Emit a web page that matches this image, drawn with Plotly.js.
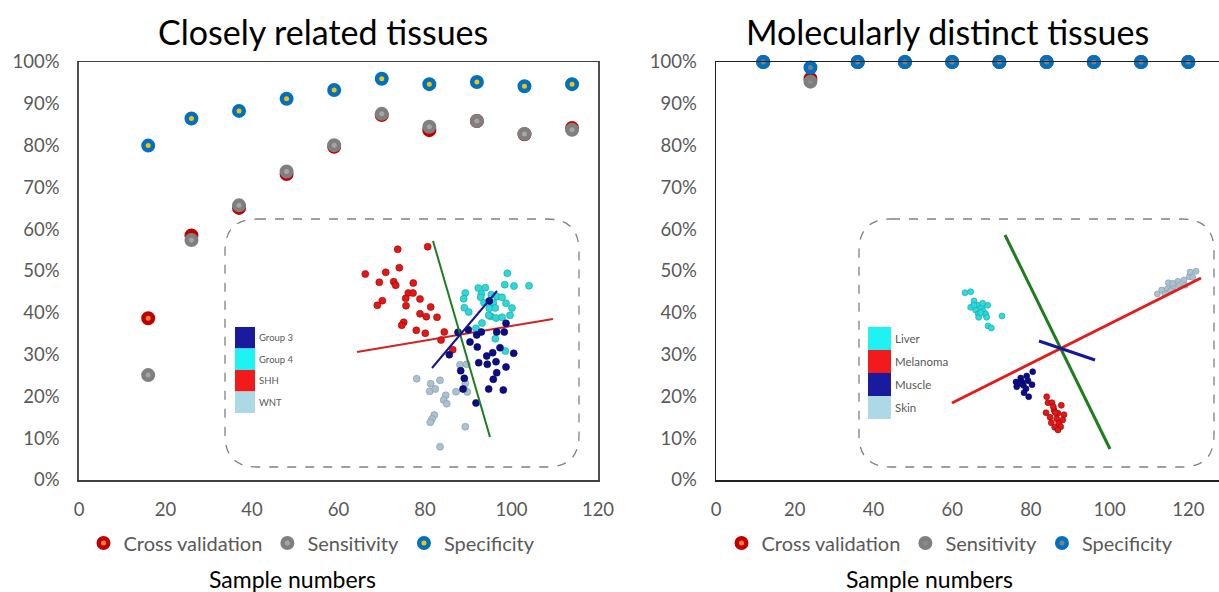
<!DOCTYPE html>
<html><head><meta charset="utf-8">
<script src="https://cdn.plot.ly/plotly-3.0.1.min.js"></script>
<style>html,body{margin:0;padding:0;background:#fff}#chart{width:1219px;height:592px}</style>
</head><body><div id="chart"></div>
<script>
// ---------- main data ----------
const leftSamples = [16, 26, 37, 48, 59, 70, 81, 92, 103, 114];
const leftCross   = [0.387, 0.585, 0.651, 0.732, 0.797, 0.873, 0.837, 0.859, 0.827, 0.842];
const leftSens    = [0.251, 0.574, 0.657, 0.738, 0.801, 0.876, 0.845, 0.859, 0.828, 0.838];
const leftSpec    = [0.800, 0.865, 0.883, 0.912, 0.933, 0.960, 0.947, 0.952, 0.942, 0.947];

const rightSamples = [12, 24, 36, 48, 60, 72, 84, 96, 108, 120];
const rightCross   = [1, 0.960, 1, 1, 1, 1, 1, 1, 1, 1];
const rightSens    = [1, 0.953, 1, 1, 1, 1, 1, 1, 1, 1];
const rightSpec    = [1, 0.987, 1, 1, 1, 1, 1, 1, 1, 1];

const xTicks = [0, 20, 40, 60, 80, 100, 120];
const seriesNames = ['Cross validation', 'Sensitivity', 'Specificity'];

// ---------- inset 1 (closely related tissues) scores ----------
const shhX = [397.7,427.7,365.3,385.7,399.3,379.3,393.7,395.7,413.3,408.3,413,405.7,420,382.3,377.3,406,430.7,420,426.3,437,403.7,401.7,416.3,425.3,444.3,441,452.7];
const shhY = [249.3,246.7,274,272.3,267.7,282.3,281.7,285.3,283,293,293,298.3,299,300.7,305.3,305.7,307,313.7,316.7,317.3,322.3,325.3,330.3,333.3,332,340,349.7];
const g4X = [507.3,504.7,514,529,478.3,485.3,465.3,463.7,481.3,480.7,491.3,497.3,502,484,493.3,506,512,464.3,468.7,489.3,495.3,490.7,496,502,510,482,488.7,476,495.3,505.3];
const g4Y = [273.3,284.7,286,285.7,288,287.7,293,298.7,294,297.3,294.7,296.7,297.3,302.7,302.7,303.3,308,307.7,312,308.3,308,316.3,318,317.3,315.3,323,315.3,328.3,338.7,351];
const g3X = [489.3,506,458,468.3,476.7,481.3,496.7,504.3,470,477.3,500,492.7,486.7,513.7,496,478.7,487.3,506,460.7,496.7,464.3,493.3,488.7,503.3,463,476,449.3];
const g3Y = [301,323.3,332.3,329.7,335,332,332,332,342,347,347.7,352.7,356,353.3,361.7,362.7,364.3,367,370.7,372.7,378.3,379.3,389,390,389,403,354.7];
const wntX = [416.7,430.7,440,429.7,435.3,445.7,443.7,446.7,456,467.3,465.3,464.3,460,466.7,434.3,432,430.3,465.3,440];
const wntY = [378.7,383.7,380.3,391.3,389,395.3,400,403.7,391.7,392,383.3,389,364.7,364.3,415,419,422.3,426.7,446.7];
const axis1GreenX = [433, 490], axis1GreenY = [241, 437];
const axis1RedX = [357, 553],   axis1RedY = [352, 319];
const axis1BlueX = [432, 497],  axis1BlueY = [368, 291];
const inset1Labels = ['Group 3', 'Group 4', 'SHH', 'WNT'];

// ---------- inset 2 (molecularly distinct tissues) scores ----------
const liverX = [965,970.7,974,977.7,970.7,975.7,981.7,987.7,983.3,978.3,985.7,978.7,986.7,1002,988,991.3,974,982.7,980.7];
const liverY = [292.7,291.7,301,305.3,307.3,310,307.3,305.3,311,314,314.3,317.3,317.3,316,326,328,305.3,303.3,312.7];
const melX = [1046.7,1048,1052,1061.3,1046,1054,1058,1064,1050,1056.7,1062.7,1051.3,1058.7,1054.7,1060.7,1058,1055.3,1053.3];
const melY = [396.7,402.7,402.7,405.3,412.7,410,413.3,414.7,417.3,418.7,420,422.7,423.3,427.3,426.7,430,412.7,406.7];
const musX = [1032.7,1020.7,1026.7,1016,1022,1028,1016.7,1023.3,1032,1026,1024,1028.7,1020];
const musY = [371.7,378,376,382,382,380.7,386.7,385.3,384.7,388.7,392.7,396.7,383.3];
const skinX = [1157.3,1161.7,1168.3,1167.3,1173.3,1172.7,1178,1179.3,1184,1185.3,1189.3,1190,1196,1192.7,1170.7,1164.7];
const skinY = [294,290,282.7,288.7,287.3,283.3,281.3,285.3,280,285.3,276.7,272,271.3,277.3,290.7,294];
const axis2GreenX = [1005, 1110],  axis2GreenY = [235, 449];
const axis2RedX = [952, 1201],     axis2RedY = [403, 278];
const axis2BlueX = [1039, 1095],   axis2BlueY = [341, 360];
const inset2Labels = ['Liver', 'Melanoma', 'Muscle', 'Skin'];

// ---------- build ----------
const FONT = 'Lato, "Open Sans", sans-serif';
const W = 1219, H = 592;
const px = v => v / W, py = v => 1 - v / H;

function mainTrace(x, y, name, fill, edge, xa, ya, lg) {
  return {type:'scatter', mode:'markers', x, y, name, xaxis:xa, yaxis:ya, legend:lg,
    cliponaxis:false, hoverinfo:'skip',
    marker:{symbol:'circle', size:9.5, color:fill, line:{color:edge, width:4.5}}};
}
function pts(x, y, color, edge, size, xa, ya) {
  return {type:'scatter', mode:'markers', x, y, xaxis:xa, yaxis:ya, showlegend:false, hoverinfo:'skip',
    marker:{size, color, line:{color:edge, width:0.6}}};
}
function seg(x, y, color, width, xa, ya) {
  return {type:'scatter', mode:'lines', x, y, xaxis:xa, yaxis:ya, showlegend:false, hoverinfo:'skip',
    line:{color, width}};
}

const traces = [
  mainTrace(leftSamples, leftCross, seriesNames[0], '#ED7D31', '#C00000', 'x', 'y', 'legend'),
  mainTrace(leftSamples, leftSens,  seriesNames[1], '#A5A5A5', '#7F7F7F', 'x', 'y', 'legend'),
  mainTrace(leftSamples, leftSpec,  seriesNames[2], '#FFC000', '#0070C0', 'x', 'y', 'legend'),
  mainTrace(rightSamples, rightCross, seriesNames[0], '#ED7D31', '#C00000', 'x2', 'y2', 'legend2'),
  mainTrace(rightSamples, rightSens,  seriesNames[1], '#8A8A8A', '#7F7F7F', 'x2', 'y2', 'legend2'),
  mainTrace(rightSamples, rightSpec,  seriesNames[2], '#7F7F7F', '#0070C0', 'x2', 'y2', 'legend2'),
  // inset 1
  seg(axis1RedX, axis1RedY, '#D42222', 2, 'x3', 'y3'),
  pts(wntX, wntY, '#A9C2CF', '#7f9aa8', 7, 'x3', 'y3'),
  pts(shhX, shhY, '#E01818', '#a00000', 7, 'x3', 'y3'),
  pts(g4X, g4Y, '#2CD8D8', '#1a9fa0', 7, 'x3', 'y3'),
  pts(g3X, g3Y, '#0C0C88', '#05054f', 7, 'x3', 'y3'),
  seg(axis1GreenX, axis1GreenY, '#1E7D1E', 2, 'x3', 'y3'),
  seg(axis1BlueX, axis1BlueY, '#16168E', 2, 'x3', 'y3'),
  // inset 2
  pts(liverX, liverY, '#2ADCDC', '#1a9fa0', 6, 'x4', 'y4'),
  pts(melX, melY, '#E01818', '#a00000', 6, 'x4', 'y4'),
  pts(musX, musY, '#0C0C88', '#05054f', 6, 'x4', 'y4'),
  pts(skinX, skinY, '#A9C2CF', '#7f9aa8', 6, 'x4', 'y4'),
  seg(axis2RedX, axis2RedY, '#E01E1E', 3, 'x4', 'y4'),
  seg(axis2GreenX, axis2GreenY, '#1E7D1E', 3, 'x4', 'y4'),
  seg(axis2BlueX, axis2BlueY, '#1515A0', 3, 'x4', 'y4')
];

function roundRect(x0, y0, x1, y1, r) {
  return `M ${x0+r},${y0} L ${x1-r},${y0} Q ${x1},${y0} ${x1},${y0+r} L ${x1},${y1-r} Q ${x1},${y1} ${x1-r},${y1} ` +
         `L ${x0+r},${y1} Q ${x0},${y1} ${x0},${y1-r} L ${x0},${y0+r} Q ${x0},${y0} ${x0+r},${y0} Z`;
}

const shapes = [
  {type:'path', xref:'x3', yref:'y3', path:roundRect(225, 219, 579, 467, 32), line:{color:'#808080', width:1.3, dash:'dash'}, layer:'below'},
  {type:'path', xref:'x4', yref:'y4', path:roundRect(859, 219, 1214, 467, 32), line:{color:'#808080', width:1.3, dash:'dash'}, layer:'below'}
];
const sq1 = ['#1A1A9E', '#1EF2F2', '#F21A1A', '#ADD8E6'];
const sq2 = ['#1EF2F2', '#F21A1A', '#1A1A9E', '#ADD8E6'];
const annotations = [];
inset1Labels.forEach((t, i) => {
  const y0 = 327 + i * 21.5;
  shapes.push({type:'rect', xref:'x3', yref:'y3', x0:235, x1:255, y0:y0, y1:y0+21.5, fillcolor:sq1[i], line:{width:0}});
  annotations.push({xref:'x3', yref:'y3', x:257, y:y0+10.75, text:t, showarrow:false, xanchor:'left', yanchor:'middle',
    font:{family:FONT, size:9.5, color:'#595959'}});
});
inset2Labels.forEach((t, i) => {
  const y0 = 327 + i * 23;
  shapes.push({type:'rect', xref:'x4', yref:'y4', x0:868, x1:891, y0:y0, y1:y0+23, fillcolor:sq2[i], line:{width:0}});
  annotations.push({xref:'x4', yref:'y4', x:893, y:y0+11.5, text:t, showarrow:false, xanchor:'left', yanchor:'middle',
    font:{family:FONT, size:11.5, color:'#595959'}});
});
annotations.push(
  {xref:'paper', yref:'paper', x:px(323), y:py(31), text:'Closely related tissues', showarrow:false, xanchor:'center', yanchor:'middle', font:{family:FONT, size:34, color:'#000'}},
  {xref:'paper', yref:'paper', x:px(947), y:py(31), text:'Molecularly distinct tissues', showarrow:false, xanchor:'center', yanchor:'middle', font:{family:FONT, size:34, color:'#000'}},
  {xref:'paper', yref:'paper', x:px(292), y:py(579), text:'Sample numbers', showarrow:false, xanchor:'center', yanchor:'middle', font:{family:FONT, size:23, color:'#000'}},
  {xref:'paper', yref:'paper', x:px(929), y:py(579), text:'Sample numbers', showarrow:false, xanchor:'center', yanchor:'middle', font:{family:FONT, size:23, color:'#000'}}
);

const tickFont = {family:FONT, size:18.5, color:'#595959'};
const yDom = [py(480), py(62)];
const baseX = {range:[0,120], tickvals:xTicks, showgrid:false, zeroline:false, ticks:'', showline:true,
  tickfont:tickFont, ticklabelstandoff:12, fixedrange:true};
const baseY = {range:[0,1], dtick:0.1, tickformat:'.0%', showgrid:false, zeroline:false, ticks:'', showline:true,
  tickfont:tickFont, ticklabelstandoff:14, fixedrange:true};
const hidden = {visible:false, showgrid:false, zeroline:false, fixedrange:true};

const legendBase = {orientation:'h', xanchor:'center', y:py(543), yanchor:'middle', bgcolor:'rgba(0,0,0,0)',
  font:{family:FONT, size:20, color:'#595959'}, itemclick:false, itemdoubleclick:false};

const layout = {
  width:W, height:H, margin:{l:0, r:0, t:0, b:0}, paper_bgcolor:'#fff', plot_bgcolor:'rgba(0,0,0,0)',
  font:{family:FONT},
  xaxis: Object.assign({}, baseX, {domain:[px(79), px(598)], anchor:'y', mirror:true, linecolor:'#404040', linewidth:1.5}),
  yaxis: Object.assign({}, baseY, {domain:yDom, anchor:'x', mirror:true, linecolor:'#505050', linewidth:1.8}),
  xaxis2: Object.assign({}, baseX, {domain:[px(716), 1], range:[0, 127.8], anchor:'y2', mirror:true, linecolor:'#202020', linewidth:1.5}),
  yaxis2: Object.assign({}, baseY, {domain:yDom, anchor:'x2', mirror:false, linecolor:'#202020', linewidth:1.5}),
  xaxis3: Object.assign({}, hidden, {domain:[px(220), px(585)], range:[220, 585], anchor:'y3'}),
  yaxis3: Object.assign({}, hidden, {domain:[py(470), py(215)], range:[470, 215], anchor:'x3'}),
  xaxis4: Object.assign({}, hidden, {domain:[px(850), 1], range:[850, 1219], anchor:'y4'}),
  yaxis4: Object.assign({}, hidden, {domain:[py(470), py(215)], range:[470, 215], anchor:'x4'}),
  legend: Object.assign({}, legendBase, {x:px(312)}),
  legend2: Object.assign({}, legendBase, {x:px(950)}),
  shapes, annotations, showlegend:true
};

Plotly.newPlot('chart', traces, layout, {displayModeBar:false, staticPlot:true});
</script>
</body></html>
